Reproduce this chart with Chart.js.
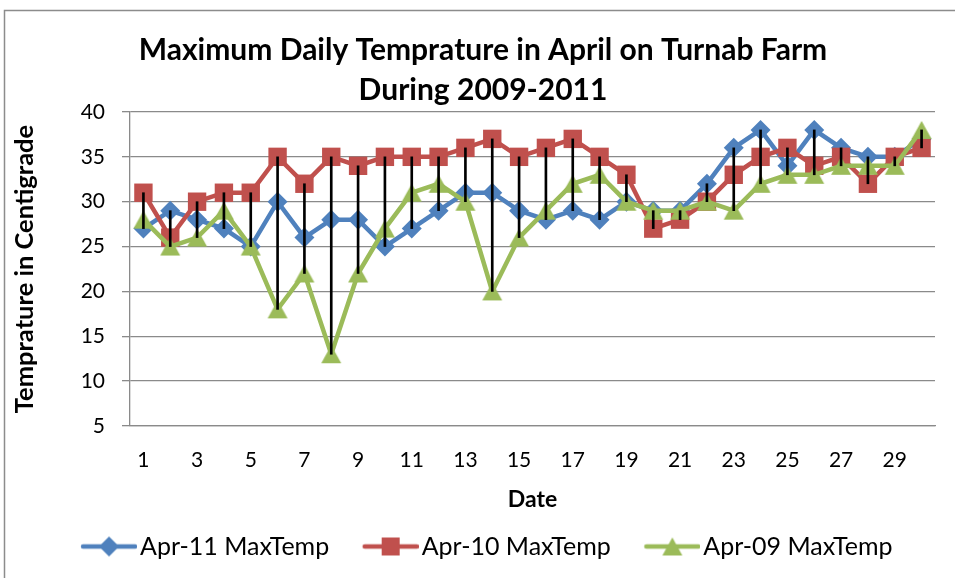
<!DOCTYPE html>
<html lang="en">
<head>
    <meta charset="UTF-8">
    <title>Maximum Daily Temprature in April on Turnab Farm</title>
    <script src="https://cdn.jsdelivr.net/npm/chart.js"></script>
    <style>
        body { margin: 0; background: #fff; }
    </style>
</head>
<body>
    <canvas id="tempChart" width="955" height="578"></canvas>

    <script>
        const days = ['1','2','3','4','5','6','7','8','9','10','11','12','13','14','15',
                      '16','17','18','19','20','21','22','23','24','25','26','27','28','29','30'];
        const apr11 = [27,29,28,27,25,30,26,28,28,25,27,29,31,31,29,28,29,28,30,29,29,32,36,38,34,38,36,35,35,37];
        const apr10 = [31,26,30,31,31,35,32,35,34,35,35,35,36,37,35,36,37,35,33,27,28,30,33,35,36,34,35,32,35,36];
        const apr09 = [28,25,26,29,25,18,22,13,22,27,31,32,30,20,26,29,32,33,30,29,29,30,29,32,33,33,34,34,34,38];
        const seriesNames = ['Apr-11 MaxTemp', 'Apr-10 MaxTemp', 'Apr-09 MaxTemp'];
        const yTicks = [5, 10, 15, 20, 25, 30, 35, 40];

        const BLUE = '#4f81bd', RED = '#c0504d', GREEN = '#9bbb59';
        const FONT = 'Lato, "Open Sans", sans-serif';

        // high-low range per day, from the three series
        const hiLow = days.map((d, i) => {
            const v = [apr11[i], apr10[i], apr09[i]];
            return [Math.min(...v), Math.max(...v)];
        });

        // triangle marker centred in its box (like Excel's)
        function triangleMarker(color) {
            const c = document.createElement('canvas');
            c.width = 22; c.height = 20;
            const g = c.getContext('2d');
            g.fillStyle = color;
            g.beginPath();
            g.moveTo(11, 1);
            g.lineTo(21, 19);
            g.lineTo(1, 19);
            g.closePath();
            g.fill();
            return c;
        }

        // legend icon: line with marker in the middle, transparent on the left
        function legendIcon(color, shape, width) {
            const c = document.createElement('canvas');
            c.width = width; c.height = 22;
            const g = c.getContext('2d');
            const x0 = width - 56, cx = width - 28, cy = 11;
            g.strokeStyle = color;
            g.lineWidth = 4.5;
            g.lineCap = 'round';
            g.beginPath();
            g.moveTo(x0 + 2, cy);
            g.lineTo(width - 2, cy);
            g.stroke();
            g.fillStyle = color;
            g.beginPath();
            if (shape === 'diamond') {
                g.moveTo(cx, cy - 10); g.lineTo(cx + 10, cy); g.lineTo(cx, cy + 10); g.lineTo(cx - 10, cy);
            } else if (shape === 'square') {
                g.rect(cx - 9, cy - 9, 18, 18);
            } else {
                g.moveTo(cx, cy - 9); g.lineTo(cx + 10, cy + 9); g.lineTo(cx - 10, cy + 9);
            }
            g.closePath();
            g.fill();
            return c;
        }

        const ICON_BOX = 70;
        const legendIcons = [
            legendIcon(BLUE, 'diamond', ICON_BOX + 19),
            legendIcon(RED, 'square', ICON_BOX + 19),
            legendIcon(GREEN, 'triangle', ICON_BOX + 19)
        ];
        const colors = [BLUE, RED, GREEN];

        const framePlugin = {
            id: 'frame',
            afterLayout(chart) {
                // the title sits a little right of the canvas centre
                chart.titleBlock.left += 8;
                chart.titleBlock.right += 8;
            },
            afterDraw(chart) {
                const ctx = chart.ctx;
                ctx.save();
                ctx.strokeStyle = '#8c8c8c';
                ctx.lineWidth = 1.5;
                ctx.beginPath();
                ctx.moveTo(4.5, chart.height);
                ctx.lineTo(4.5, 10.5);
                ctx.lineTo(chart.width, 10.5);
                ctx.stroke();
                ctx.restore();
            }
        };

        const ctx = document.getElementById('tempChart').getContext('2d');
        new Chart(ctx, {
            data: {
                labels: days,
                datasets: [
                    {
                        type: 'bar',
                        label: 'hi-low',
                        data: hiLow,
                        backgroundColor: '#000',
                        barThickness: 2,
                        order: 0
                    },
                    {
                        type: 'line',
                        label: seriesNames[0],
                        data: apr11,
                        borderColor: BLUE,
                        backgroundColor: BLUE,
                        borderWidth: 4.5,
                        pointStyle: 'rectRot',
                        pointRadius: 10,
                        pointBorderWidth: 0,
                        tension: 0,
                        order: 3
                    },
                    {
                        type: 'line',
                        label: seriesNames[1],
                        data: apr10,
                        borderColor: RED,
                        backgroundColor: RED,
                        borderWidth: 4.5,
                        pointStyle: 'rect',
                        pointRadius: 13,
                        pointBorderWidth: 0,
                        tension: 0,
                        order: 2
                    },
                    {
                        type: 'line',
                        label: seriesNames[2],
                        data: apr09,
                        borderColor: GREEN,
                        backgroundColor: GREEN,
                        borderWidth: 4.5,
                        pointStyle: triangleMarker(GREEN),
                        pointRadius: 11,
                        pointBorderWidth: 0,
                        tension: 0,
                        order: 1
                    }
                ]
            },
            options: {
                responsive: false,
                animation: false,
                layout: { padding: { left: 15, right: 20, top: 0, bottom: 9 } },
                plugins: {
                    tooltip: { enabled: false },
                    title: {
                        display: true,
                        text: ['Maximum Daily Temprature in April on Turnab Farm', 'During 2009-2011'],
                        color: '#000',
                        font: { family: FONT, size: 30, weight: 'bold', lineHeight: 1.333 },
                        padding: { top: 30, bottom: 2 }
                    },
                    legend: {
                        position: 'bottom',
                        labels: {
                            color: '#000',
                            font: { family: FONT, size: 25 },
                            usePointStyle: true,
                            pointStyleWidth: ICON_BOX,
                            boxHeight: 22,
                            padding: 10,
                            generateLabels: () => seriesNames.map((name, i) => ({
                                text: name,
                                fillStyle: colors[i],
                                strokeStyle: colors[i],
                                lineWidth: 0,
                                pointStyle: legendIcons[i],
                                datasetIndex: i + 1,
                                hidden: false
                            }))
                        }
                    }
                },
                scales: {
                    x: {
                        type: 'category',
                        offset: true,
                        grid: { display: false, drawTicks: false },
                        border: { display: true, color: '#8a8a8a', width: 1.3 },
                        ticks: {
                            autoSkip: false,
                            maxRotation: 0,
                            color: '#000',
                            font: { family: FONT, size: 21 },
                            padding: 22,
                            callback: function (value, index) {
                                return index % 2 === 0 ? this.getLabelForValue(value) : '';
                            }
                        },
                        title: {
                            display: true,
                            text: 'Date',
                            color: '#000',
                            font: { family: FONT, size: 23, weight: 'bold' },
                            padding: { top: 0, bottom: 11 }
                        },
                        afterFit: scale => { scale.height = 98; }
                    },
                    y: {
                        min: yTicks[0],
                        max: yTicks[yTicks.length - 1],
                        grid: { color: '#8a8a8a', lineWidth: 1.3, tickLength: 8 },
                        border: { color: '#8a8a8a', width: 1.3 },
                        ticks: {
                            stepSize: 5,
                            color: '#000',
                            font: { family: FONT, size: 21 },
                            padding: 17
                        },
                        title: {
                            display: true,
                            text: 'Temprature in Centigrade',
                            color: '#000',
                            font: { family: FONT, size: 25.5, weight: 'bold', lineHeight: 0.8 },
                            padding: { top: 0, bottom: 0 }
                        },
                        afterFit: scale => { scale.width = 115; }
                    }
                }
            },
            plugins: [framePlugin]
        });
    </script>
</body>
</html>
